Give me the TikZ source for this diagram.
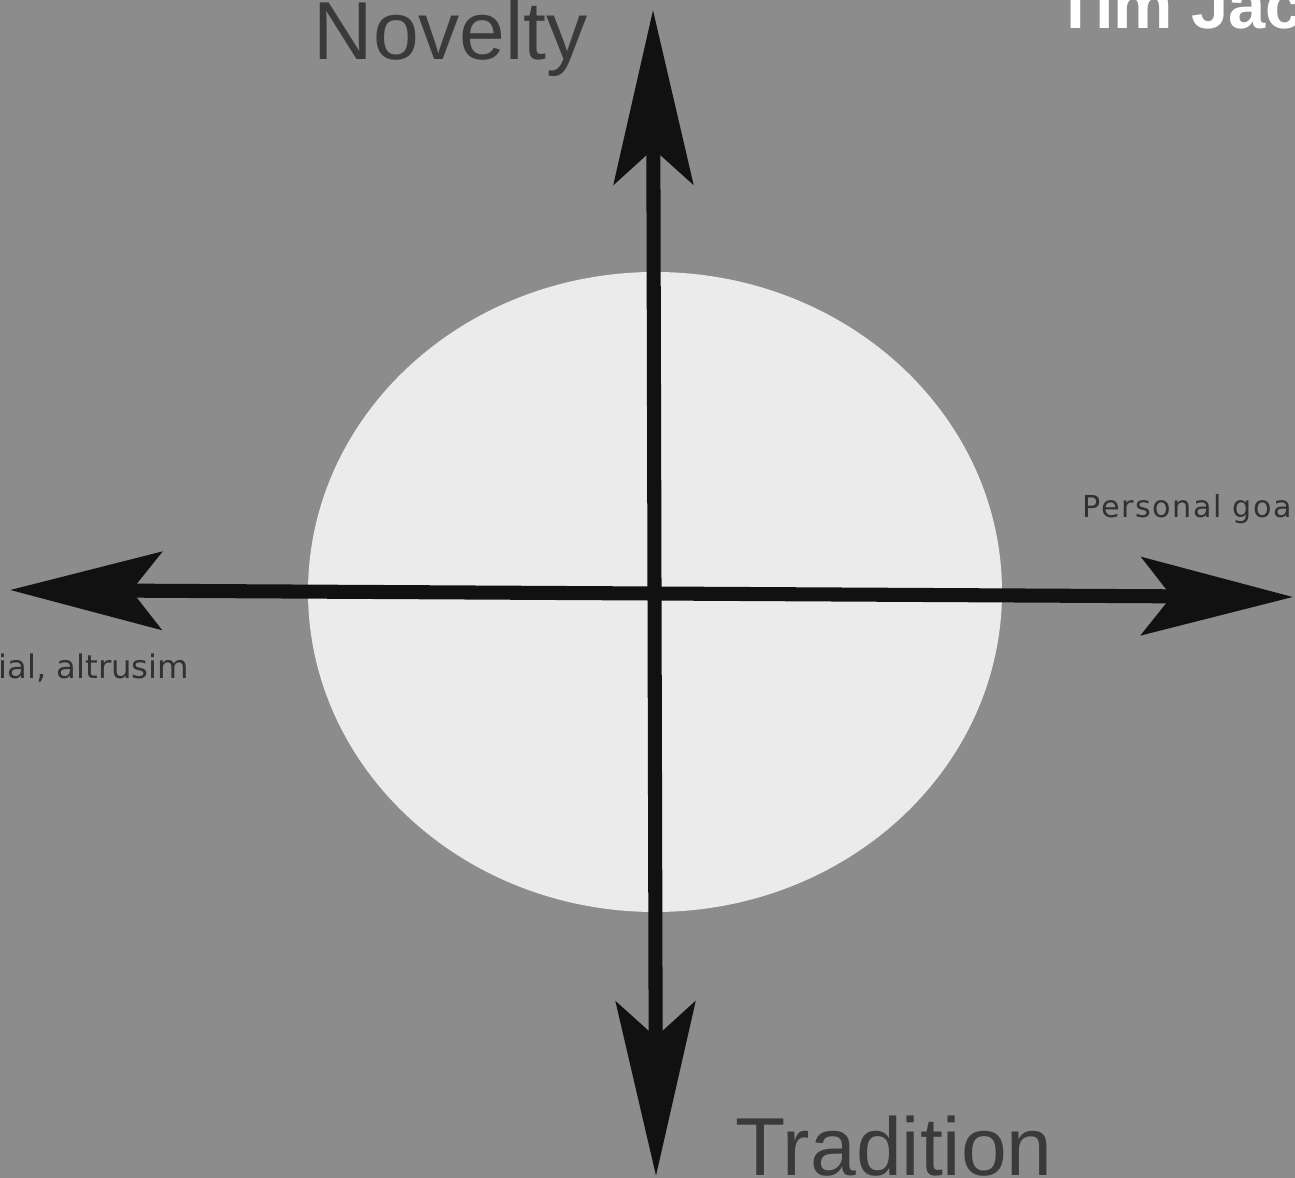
\documentclass[tikz,border=0pt]{standalone}
\usepackage{fontspec}
\setmainfont{Liberation Sans}
\newfontfamily\labelfont[LetterSpace=5]{DejaVu Sans}
\newfontfamily\leftlabelfont{DejaVu Sans}
\usepackage{tikz}
\usetikzlibrary{arrows.meta,positioning,shapes.geometric}
\definecolor{bggray}{RGB}{140,140,140}
\definecolor{discgray}{RGB}{235,235,235}
\definecolor{axisblack}{RGB}{17,17,17}
\definecolor{textgray}{RGB}{58,58,58}
\begin{document}
\begin{tikzpicture}[
    x=0.1mm, y=-0.1mm,
    harrow/.style={line width=4pt, axisblack,
                   {Stealth[length=43pt, width=22pt, inset=8.5pt]}-{Stealth[length=43pt, width=22pt, inset=8.5pt]}},
    varrow/.style={line width=4pt, axisblack,
                   {Stealth[length=49.5pt, width=22.5pt, inset=10pt]}-{Stealth[length=49.5pt, width=22.5pt, inset=10pt]}},
    biglabel/.style={inner sep=0pt, font=\fontsize{23.4}{26}\selectfont, text=textgray},
    smalllabel/.style={inner sep=0pt, font=\labelfont\fontsize{8.6}{10}\selectfont, text=textgray!85!black}
  ]
    \useasboundingbox (0,0) rectangle (1295,1178);
    \clip (0,0) rectangle (1295,1178);
    \fill[bggray] (0,0) rectangle (1295,1178);

    \node[ellipse, fill=discgray, minimum width=69.4mm, minimum height=64mm,
          inner sep=0pt] (disc) at (655,592) {};

    % axis ends
    \coordinate (left) at (10,590);
    \coordinate (right) at (1293,597);
    \coordinate (top) at (653,10);
    \coordinate (bottom) at (656,1176);

    \draw[harrow] (left) -- (right);
    \draw[varrow] (top) -- (bottom);

    % labels
    \node[biglabel, anchor=base west] (novelty) at (313,60) {Novelty};
    \node[biglabel, anchor=base west] (tradition) at (735,1175) {Tradition};
    \node[smalllabel, anchor=base west] (personal) at (1082,518) {Personal goals};
    \node[smalllabel, anchor=base east, font=\leftlabelfont\fontsize{9.2}{11}\selectfont]
      (social) at (190,679) {Social, altrusim};
    \node[inner sep=0pt, anchor=base west, text=white,
          font=\bfseries\fontsize{19}{22}\selectfont] (author) at (1055,29) {Tim Jackson};
\end{tikzpicture}
\end{document}
